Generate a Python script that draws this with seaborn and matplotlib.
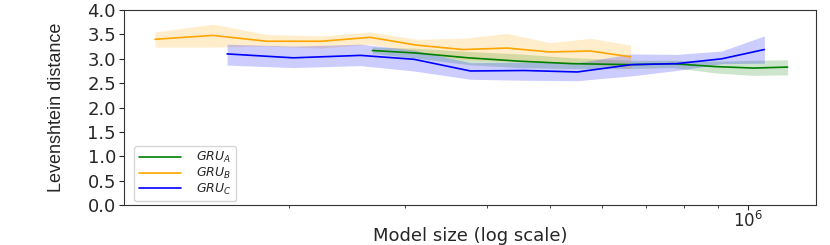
import numpy as np
import pandas as pd
import matplotlib
matplotlib.use("Agg")
import matplotlib.pyplot as plt
import seaborn as sns

# model sizes (number of parameters) and mean Levenshtein distance per variant
size_a = [2.68e5, 3.11e5, 3.75e5, 4.50e5, 5.42e5, 6.63e5, 7.68e5, 8.94e5, 1.02e6, 1.15e6]
mean_a = [3.17, 3.12, 3.02, 2.95, 2.90, 2.88, 2.90, 2.84, 2.81, 2.83]
lo_a = [3.11, 3.02, 2.88, 2.82, 2.80, 2.80, 2.82, 2.71, 2.66, 2.67]
hi_a = [3.24, 3.22, 3.15, 3.10, 3.02, 2.97, 2.97, 2.95, 2.97, 2.98]

size_b = [1.25e5, 1.53e5, 1.85e5, 2.24e5, 2.66e5, 3.13e5, 3.68e5, 4.30e5, 5.00e5, 5.76e5, 6.63e5]
mean_b = [3.40, 3.48, 3.36, 3.36, 3.44, 3.28, 3.19, 3.22, 3.14, 3.16, 3.04]
lo_b = [3.24, 3.24, 3.26, 3.22, 3.30, 3.14, 2.98, 2.95, 2.92, 2.90, 2.80]
hi_b = [3.55, 3.71, 3.50, 3.47, 3.55, 3.40, 3.42, 3.52, 3.33, 3.42, 3.28]

size_c = [1.61e5, 2.03e5, 2.57e5, 3.10e5, 3.78e5, 4.57e5, 5.50e5, 6.65e5, 7.79e5, 9.13e5, 1.06e6]
mean_c = [3.10, 3.02, 3.07, 2.99, 2.75, 2.76, 2.73, 2.88, 2.90, 3.00, 3.19]
lo_c = [2.87, 2.82, 2.86, 2.75, 2.58, 2.56, 2.55, 2.65, 2.76, 2.90, 2.91]
hi_c = [3.30, 3.26, 3.30, 3.18, 2.92, 2.93, 2.92, 3.10, 3.09, 3.16, 3.47]

labels = [r"$GRU_A$", r"$GRU_B$", r"$GRU_C$"]
colors = ["green", "orange", "blue"]

sns.set_style("ticks")
plt.rcParams["font.family"] = ["DejaVu Sans"]

fig = plt.figure(figsize=(8.3, 2.45), dpi=100)
ax = fig.add_axes([0.149, 0.163, 0.834, 0.796])

series = [(size_a, mean_a, lo_a, hi_a), (size_b, mean_b, lo_b, hi_b), (size_c, mean_c, lo_c, hi_c)]
for (x, m, lo, hi), lab, col in zip(series, labels, colors):
    df = pd.DataFrame({"size": x, "dist": m})
    sns.lineplot(data=df, x="size", y="dist", color=col, linewidth=1.2, label=lab, ax=ax)
    ax.fill_between(x, lo, hi, color=col, alpha=0.2, linewidth=0)

ax.set_xscale("log")
ax.set_xlim(1.12e5, 1.27e6)
ax.set_ylim(0, 4)
ax.set_yticks(np.arange(0, 4.01, 0.5))
ax.tick_params(axis="both", which="major", labelsize=13, pad=2)
ax.tick_params(axis="x", which="major", labelsize=12, pad=1)
ax.set_xlabel("Model size (log scale)", fontsize=13)
ax.xaxis.set_label_coords(0.5, -0.115)
ax.set_ylabel("Levenshtein distance", fontsize=13,
              family=["Liberation Sans", "DejaVu Sans"], labelpad=16)
for s in ax.spines.values():
    s.set_color("0.2")

ax.legend(loc="lower left", fontsize=9, handlelength=3.4, handletextpad=1.2,
          labelspacing=0.05, borderpad=0.35, borderaxespad=0.3,
          bbox_to_anchor=(0.01, 0.0))

fig.savefig("out.png", dpi=100)
